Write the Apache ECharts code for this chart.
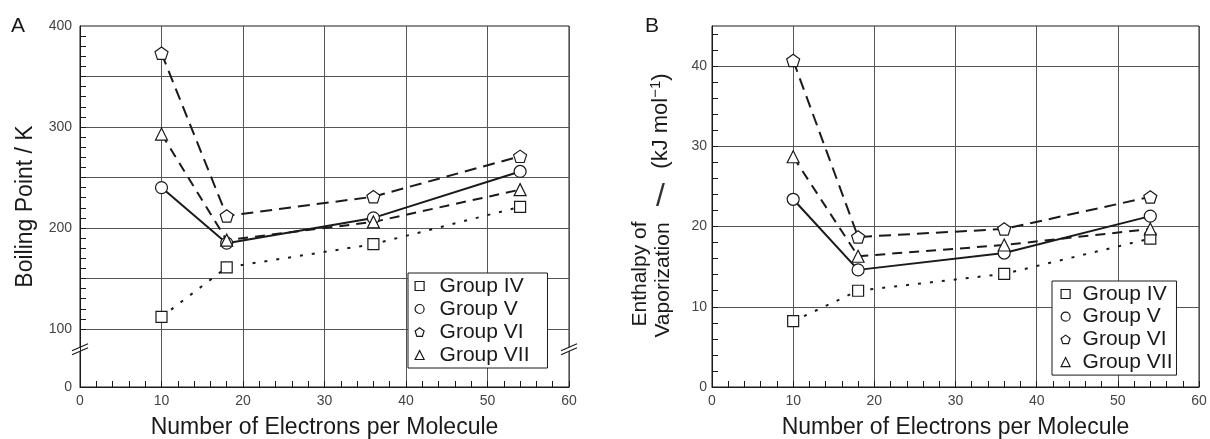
<!DOCTYPE html>
<html>
<head>
<meta charset="utf-8">
<script src="https://cdn.jsdelivr.net/npm/echarts@6/dist/echarts.min.js"></script>
<style>
  html, body { margin: 0; padding: 0; background: #fff; }
  #chart { width: 1210px; height: 439px; }
</style>
</head>
<body>
<div id="chart"></div>
<script>
// x values shared by both panels
var ELECTRONS = [10, 18, 36, 54]
var GROUPS = ['Group IV', 'Group V', 'Group VI', 'Group VII']

// panel A: boiling point / K
var BP_GROUP_IV = [112, 161, 184, 221]
var BP_GROUP_V = [240, 185, 210, 256]
var BP_GROUP_VI = [373, 212, 231, 271]
var BP_GROUP_VII = [293, 188, 206, 238]

// panel B: enthalpy of vaporization / kJ mol-1
var HV_GROUP_IV = [8.2, 12.0, 14.1, 18.5]
var HV_GROUP_V = [23.4, 14.6, 16.7, 21.3]
var HV_GROUP_VI = [40.7, 18.7, 19.7, 23.7]
var HV_GROUP_VII = [28.7, 16.3, 17.7, 19.7]

// ticks
var A_Y_ZERO = 42.6 // where "0" sits below the axis break
var A_Y_BREAK = 80
var A_Y_LABELS = [A_Y_ZERO, 100, 200, 300, 400]
var A_Y_TICKS = [A_Y_ZERO, 100, 110, 120, 130, 140, 150, 160, 170, 180, 190, 200, 210, 220, 230, 240, 250, 260, 270, 280, 290, 300, 310, 320, 330, 340, 350, 360, 370, 380, 390]
var A_Y_GRID = [100, 150, 200, 250, 300, 350]
var B_Y_LABELS = [0, 10, 20, 30, 40]
var B_Y_TICKS = [0, 2, 4, 6, 8, 10, 12, 14, 16, 18, 20, 22, 24, 26, 28, 30, 32, 34, 36, 38, 40, 42, 44]
var B_Y_GRID = [10, 20, 30, 40]

var FONT = '"Liberation Sans", Arial, Helvetica, sans-serif'
var INK = '#1a1a1a'
var PENTAGON = 'path://M0,-10 L9.51,-3.09 L5.88,8.09 L-5.88,8.09 L-9.51,-3.09 Z'
var SYMBOLS = ['rect', 'circle', PENTAGON, 'triangle']
var SIZES = [11, 12, 13, 12]
var DASHES = [[3, 9], 'solid', [12, 7], [10, 7]]

var chart = echarts.init(document.getElementById('chart'))

function pairs(vals) {
  return ELECTRONS.map(function(x, i) { return [x, vals[i]] })
}

function makeSeries(name, idx, vals, axisIdx) {
  return {
    name: name,
    type: 'line',
    xAxisIndex: axisIdx,
    yAxisIndex: axisIdx * 2,
    data: pairs(vals),
    symbol: SYMBOLS[idx],
    symbolSize: SIZES[idx],
    symbolKeepAspect: true,
    showSymbol: true,
    itemStyle: { color: '#fff', borderColor: INK, borderWidth: 1.2 },
    lineStyle: { color: INK, width: 2, type: DASHES[idx] },
    z: 3
  }
}

function xAxis(gridIndex) {
  return {
    type: 'value',
    gridIndex: gridIndex,
    min: 0,
    max: 60,
    interval: 10,
    name: 'Number of Electrons per Molecule',
    nameLocation: 'middle',
    nameGap: 29,
    nameTextStyle: { fontFamily: FONT, fontSize: 23, color: INK },
    axisLine: { show: true, lineStyle: { color: INK, width: 1 } },
    axisTick: { show: true, inside: true, length: 6, lineStyle: { color: INK } },
    minorTick: { show: true, splitNumber: 5, length: 6, lineStyle: { color: INK } },
    axisLabel: { fontFamily: FONT, fontSize: 14, color: '#444', margin: 7 },
    splitLine: { show: true, lineStyle: { color: '#555', width: 1 } }
  }
}

function dataYAxis(gridIndex, min, max, labels, ticks, fmt, margin) {
  return {
    type: 'value',
    gridIndex: gridIndex,
    min: min,
    max: max,
    axisLine: { show: true, lineStyle: { color: INK, width: 1 } },
    axisTick: { show: true, inside: true, length: 6, customValues: ticks, lineStyle: { color: INK } },
    axisLabel: { fontFamily: FONT, fontSize: 14, color: '#444', margin: margin, customValues: labels, formatter: fmt },
    splitLine: { show: false }
  }
}

function gridYAxis(gridIndex, min, max, lines) {
  return {
    type: 'value',
    gridIndex: gridIndex,
    min: min,
    max: max,
    axisLine: { show: false },
    axisTick: { show: false, customValues: lines },
    axisLabel: { show: false },
    splitLine: { show: true, lineStyle: { color: '#555', width: 1 } }
  }
}

function legend(left, top, padding, gap, textPad) {
  return {
    orient: 'vertical',
    left: left,
    top: top,
    padding: padding,
    itemGap: gap,
    itemWidth: 9,
    itemHeight: 9,
    backgroundColor: '#fff',
    borderColor: INK,
    borderWidth: 1,
    borderRadius: 0,
    selectedMode: false,
    itemStyle: { color: '#fff', borderColor: INK, borderWidth: 1.2 },
    textStyle: { fontFamily: FONT, fontSize: 21, color: INK, lineHeight: 21, padding: [0, 0, 0, textPad] },
    data: GROUPS.map(function(g, i) { return { name: g, icon: SYMBOLS[i] } }),
    z: 10
  }
}

var yA = dataYAxis(0, A_Y_ZERO, 400, A_Y_LABELS, A_Y_TICKS, function(v) {
  return Math.abs(v - A_Y_ZERO) < 1e-6 ? '0' : String(v)
}, 8)
yA.name = 'Boiling Point / K'
yA.nameLocation = 'middle'
yA.nameGap = 43
yA.nameRotate = 90
yA.nameTextStyle = { fontFamily: FONT, fontSize: 23, color: INK }
var yB = dataYAxis(1, 0, 45, B_Y_LABELS, B_Y_TICKS, function(v) { return String(v) }, 5)

var gridBase = { top: 26, height: 361, show: true, borderColor: INK, borderWidth: 1, backgroundColor: 'transparent', containLabel: false, outerBoundsMode: 'none' }

chart.setOption({
  animation: false,
  backgroundColor: '#fff',
  grid: [
    Object.assign({ left: 80, width: 489 }, gridBase),
    Object.assign({ left: 712, width: 487 }, gridBase)
  ],
  xAxis: [xAxis(0), xAxis(1)],
  yAxis: [
    yA,
    gridYAxis(0, A_Y_ZERO, 400, A_Y_GRID),
    yB,
    gridYAxis(1, 0, 45, B_Y_GRID)
  ],
  legend: [
    legend(408, 273, [2.5, 18, 2.5, 6.5], 2, 10.5),
    legend(1052, 281, [2.5, 4, 2.5, 8.5], 1.7, 7.5)
  ],
  series: [
    makeSeries(GROUPS[0], 0, BP_GROUP_IV, 0),
    makeSeries(GROUPS[1], 1, BP_GROUP_V, 0),
    makeSeries(GROUPS[2], 2, BP_GROUP_VI, 0),
    makeSeries(GROUPS[3], 3, BP_GROUP_VII, 0),
    makeSeries(GROUPS[0], 0, HV_GROUP_IV, 1),
    makeSeries(GROUPS[1], 1, HV_GROUP_V, 1),
    makeSeries(GROUPS[2], 2, HV_GROUP_VI, 1),
    makeSeries(GROUPS[3], 3, HV_GROUP_VII, 1)
  ]
})

// axis break marks on panel A (left and right frame lines)
function breakMark(px, py) {
  return {
    type: 'group',
    z: 100,
    children: [
      { type: 'polygon', shape: { points: [[px - 7, py + 1], [px + 7, py - 5], [px + 7, py - 1], [px - 7, py + 5]] }, style: { fill: '#fff' } },
      { type: 'line', shape: { x1: px - 8, y1: py + 1.5, x2: px + 8, y2: py - 5.5 }, style: { stroke: INK, lineWidth: 1.2 } },
      { type: 'line', shape: { x1: px - 8, y1: py + 5.5, x2: px + 8, y2: py - 1.5 }, style: { stroke: INK, lineWidth: 1.2 } }
    ]
  }
}

var leftPt = chart.convertToPixel({ xAxisIndex: 0, yAxisIndex: 0 }, [0, A_Y_BREAK])
var rightPt = chart.convertToPixel({ xAxisIndex: 0, yAxisIndex: 0 }, [60, A_Y_BREAK])

var titleStyle = { fontFamily: FONT, fontSize: 21, fill: INK }
var nameStyle = { fontFamily: FONT, fontSize: 21, fill: INK, align: 'center', verticalAlign: 'middle' }

chart.setOption({
  graphic: [
    breakMark(leftPt[0], leftPt[1]),
    breakMark(rightPt[0], rightPt[1]),
    { type: 'text', left: 11, top: 16, style: Object.assign({ text: 'A' }, titleStyle) },
    { type: 'text', left: 645, top: 16, style: Object.assign({ text: 'B' }, titleStyle) },
    { type: 'text', x: 640, y: 274, rotation: Math.PI / 2, style: Object.assign({ text: 'Enthalpy of' }, nameStyle) },
    { type: 'text', x: 663, y: 280, rotation: Math.PI / 2, style: Object.assign({ text: 'Vaporization' }, nameStyle) },
    { type: 'text', left: 656, top: 181, rotation: 0, style: { text: '/', fontFamily: FONT, fontSize: 32, fill: '#333' } },
    {
      type: 'text', x: 660, y: 121, rotation: Math.PI / 2,
      style: {
        text: '{m|(kJ mol}{s|\u22121}{m|)}',
        align: 'center', verticalAlign: 'middle', fill: INK,
        rich: {
          m: { fontFamily: FONT, fontSize: 22, lineHeight: 24, verticalAlign: 'bottom' },
          s: { fontFamily: FONT, fontSize: 15, lineHeight: 24, verticalAlign: 'top' }
        }
      }
    }
  ]
})
</script>
</body>
</html>
